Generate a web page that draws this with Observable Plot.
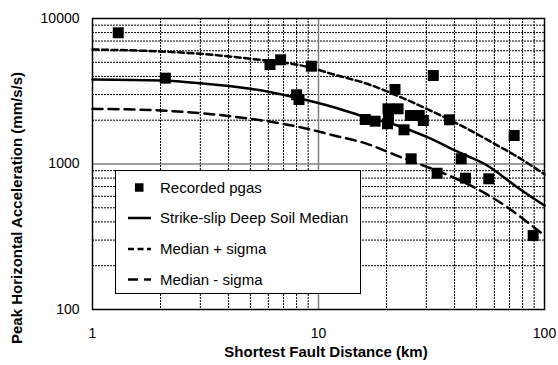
<!DOCTYPE html>
<html><head><meta charset="utf-8">
<script src="https://cdn.jsdelivr.net/npm/d3@7"></script>
<script src="https://cdn.jsdelivr.net/npm/@observablehq/plot@0.6"></script>
<style>
body{margin:0;background:#fff}
#chart{width:558px;height:365px}
</style>
</head><body><div id="chart"></div>
<script>
// Recorded PGAs
const recDist = [1.3, 2.1, 6.1, 6.8, 8.0, 8.2, 9.3, 32.2, 21.8, 20.3, 22.5, 16.1, 17.8, 20.4, 20.2, 25.5, 27.9, 29.1, 23.9, 38.0, 73.4, 25.7, 42.8, 33.5, 44.7, 56.7, 89.1];
const recPga  = [7980, 3890, 4830, 5200, 2990, 2775, 4700, 4058, 3251, 2395, 2395, 2023, 1969, 2045, 1890, 2155, 2155, 1991, 1718, 2013, 1570, 1086, 1086, 864, 799, 791, 322];
// Strike-slip deep soil median
const medDist = [1, 2, 3, 5, 7.8, 11.7, 15.3, 22.3, 30.3, 41.1, 55.8, 75.7, 100];
const medPga  = [3810, 3750, 3592, 3288, 2878, 2456, 2154, 1840, 1528, 1219, 977, 693, 518];
// Median + sigma
const plusDist = [1, 2, 3, 5, 9.06, 11.7, 16.4, 23.1, 32.4, 45.5, 63.9, 73.0, 89.7, 100];
const plusPga  = [6124, 5933, 5718, 5284, 4627, 4121, 3558, 2878, 2270, 1746, 1305, 1163, 951, 850];
// Median - sigma
const minusDist = [1, 2, 3, 5, 8.32, 11.7, 16.4, 23.1, 37.7, 48.7, 68.4, 89.7, 100];
const minusPga  = [2395, 2332, 2235, 2045, 1790, 1570, 1376, 1114, 834, 693, 505, 368, 322];

const xMajorTicks = [1, 10, 100];
const xMinorTicks = [2, 3, 4, 5, 6, 7, 8, 9, 20, 30, 40, 50, 60, 70, 80, 90];
const yMajorTicks = [100, 1000, 10000];
const yMinorTicks = [200, 300, 400, 500, 600, 700, 800, 900, 2000, 3000, 4000, 5000, 6000, 7000, 8000, 9000];
const legendLabels = ["Recorded pgas", "Strike-slip Deep Soil Median", "Median + sigma", "Median - sigma"];
const xTitle = "Shortest Fault Distance (km)";
const yTitle = "Peak Horizontal Acceleration (mm/s/s)";

const rec = recDist.map((d, i) => ({x: d, y: recPga[i]}));
const med = medDist.map((d, i) => ({x: d, y: medPga[i]}));
const plus = plusDist.map((d, i) => ({x: d, y: plusPga[i]}));
const minus = minusDist.map((d, i) => ({x: d, y: minusPga[i]}));

const FONT = "'Liberation Sans', Arial, Helvetica, sans-serif";

const plot = Plot.plot({
  width: 558, height: 365,
  marginLeft: 92, marginRight: 14, marginTop: 18, marginBottom: 56,
  style: {fontFamily: FONT, fontSize: "14px", background: "#fff", color: "#000", overflow: "visible"},
  x: {type: "log", domain: [1, 100]},
  y: {type: "log", domain: [100, 10000]},
  marks: [
    Plot.ruleX(xMinorTicks, {stroke: "#000", strokeWidth: 1, strokeDasharray: "2,1"}),
    Plot.ruleY(yMinorTicks, {stroke: "#000", strokeWidth: 1, strokeDasharray: "2,1"}),
    Plot.ruleX([10], {stroke: "#808080", strokeWidth: 1.5}),
    Plot.ruleY([1000], {stroke: "#808080", strokeWidth: 1.5}),
    Plot.axisX({ticks: xMajorTicks, tickFormat: d => String(d), tickSize: 0, tickPadding: 19, label: null, fill: "#000"}),
    Plot.axisY({ticks: yMajorTicks, tickFormat: d => String(d), tickSize: 0, tickPadding: 13, label: null, fill: "#000"}),
    Plot.text([xTitle], {text: d => d, frameAnchor: "bottom", dx: 7.5, dy: 47, fontWeight: "bold", fontSize: 15, fill: "#000"}),
    Plot.text([yTitle], {text: d => d, frameAnchor: "left", textAnchor: "middle", dx: -75, dy: 44, rotate: -90, fontWeight: "bold", fontSize: 15, fill: "#000"}),
    Plot.line(minus, {x: "x", y: "y", stroke: "#000", strokeWidth: 2.5, strokeDasharray: "10,6", curve: "monotone-x"}),
    Plot.line(plus, {x: "x", y: "y", stroke: "#000", strokeWidth: 2.5, strokeDasharray: "6,3.5", curve: "monotone-x"}),
    Plot.line(med, {x: "x", y: "y", stroke: "#000", strokeWidth: 2.5, curve: "monotone-x"}),
    Plot.dot(rec, {x: "x", y: "y", symbol: "square", r: 6.2, fill: "#000", stroke: "none"}),
    Plot.frame({stroke: "#000", strokeWidth: 1.5})
  ]
});
document.getElementById("chart").appendChild(plot);

// Legend box inside the plot area
const svg = d3.select(plot);
const lg = svg.append("g").attr("font-family", FONT).attr("font-size", 15).attr("text-anchor", "start");
lg.append("rect").attr("x", 115.5).attr("y", 170.5).attr("width", 245).attr("height", 123)
  .attr("fill", "#fff").attr("stroke", "#000").attr("stroke-width", 1);
const rowY = [187.5, 218, 249, 279.5];
lg.append("rect").attr("x", 135).attr("y", rowY[0] - 4.25).attr("width", 8.5).attr("height", 8.5).attr("fill", "#000");
lg.append("line").attr("x1", 128).attr("x2", 151).attr("y1", rowY[1]).attr("y2", rowY[1]).attr("stroke", "#000").attr("stroke-width", 2.5);
lg.append("line").attr("x1", 128).attr("x2", 151).attr("y1", rowY[2]).attr("y2", rowY[2]).attr("stroke", "#000").attr("stroke-width", 2.5).attr("stroke-dasharray", "6,3.5");
lg.append("line").attr("x1", 128).attr("x2", 151).attr("y1", rowY[3]).attr("y2", rowY[3]).attr("stroke", "#000").attr("stroke-width", 2.5).attr("stroke-dasharray", "10,6");
legendLabels.forEach((t, i) => {
  lg.append("text").attr("x", 160).attr("y", rowY[i]).attr("dy", "0.35em").attr("text-anchor", "start").attr("fill", "#000").text(t);
});
</script>
</body></html>
